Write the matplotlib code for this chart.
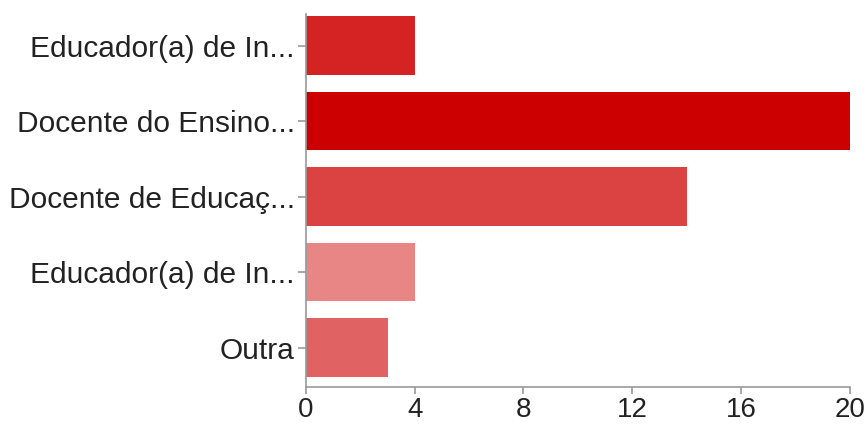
import numpy as np
import matplotlib.pyplot as plt

# Survey answers (truncated labels as shown in the form summary)
labels = ["Educador(a) de In...", "Docente do Ensino...", "Docente de Educaç...",
          "Educador(a) de In...", "Outra"]
counts = [4, 20, 14, 4, 3]
colors = ["#d52222", "#cc0000", "#db4343", "#e88585", "#e06262"]
xticks = [0, 4, 8, 12, 16, 20]

plt.rcParams['font.family'] = ['Liberation Sans', 'DejaVu Sans']

fig = plt.figure(figsize=(8.68, 4.25), dpi=100)
ax = fig.add_axes([0.3525, 0.0894, 0.6265, 0.8776])

pos = np.arange(len(labels))
ax.barh(pos, counts, height=0.78, color=colors)

ax.set_xlim(0, 20)
ax.set_ylim(4.523, -0.417)
ax.set_xticks(xticks)
ax.set_yticks(pos)
ax.set_yticklabels(labels)

for side in ["top", "right"]:
    ax.spines[side].set_visible(False)
for side in ["left", "bottom"]:
    ax.spines[side].set_color("#999999")
    ax.spines[side].set_linewidth(1.2)

ax.tick_params(axis="y", length=6, width=1.2, color="#999999", pad=2,
               labelsize=21.5, labelcolor="#222222")
ax.tick_params(axis="x", length=5, width=1.2, color="#999999", pad=2,
               labelsize=20, labelcolor="#222222")

fig.savefig("out.png", dpi=100)
